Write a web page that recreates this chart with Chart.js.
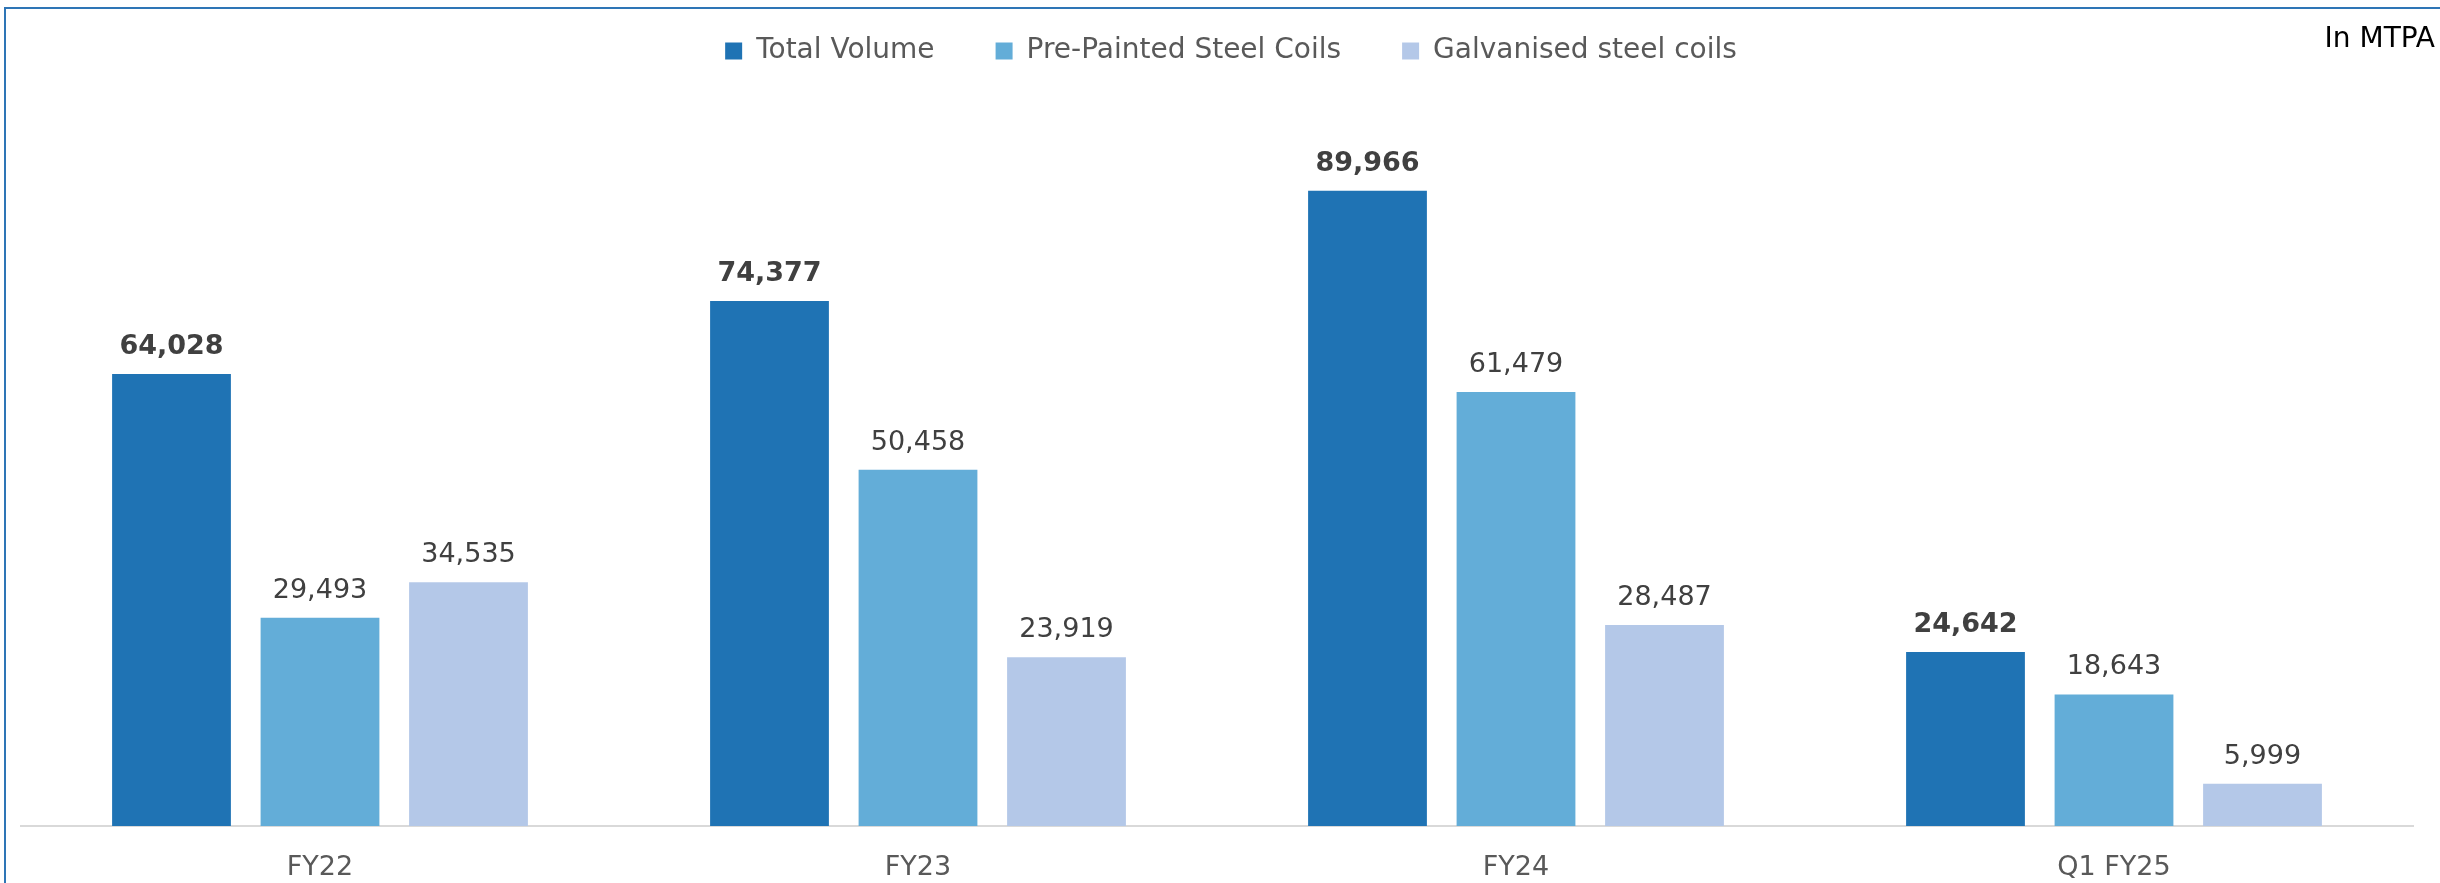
<!DOCTYPE html>
<html>
<head>
<meta charset="utf-8">
<script src="https://cdn.jsdelivr.net/npm/chart.js@4.4.1/dist/chart.umd.min.js"></script>
<style>
html, body { margin: 0; padding: 0; background: #fff; overflow: hidden; }
#wrap { position: relative; width: 2440px; height: 883px; }
#frame { position: absolute; left: 4px; top: 7px; width: 2500px; height: 1000px;
  border-left: 2px solid #2e75b6; border-top: 2px solid #2e75b6; pointer-events: none; }
</style>
</head>
<body>
<div id="wrap">
  <canvas id="barChart" width="2440" height="883"></canvas>
  <div id="frame"></div>
</div>
<script>
var categories = ['FY22', 'FY23', 'FY24', 'Q1 FY25']
var totalVolume = [64028, 74377, 89966, 24642]
var prePainted = [29493, 50458, 61479, 18643]
var galvanised = [34535, 23919, 28487, 5999]
var seriesNames = ['Total Volume', 'Pre-Painted Steel Coils', 'Galvanised steel coils']
var seriesColors = ['#1f73b4', '#63add8', '#b4c8e8']
var unitLabel = 'In MTPA'

var FONT = '"DejaVu Sans", sans-serif'

// value labels above each bar, bold for the first series
var valueLabels = {
    id: 'valueLabels',
    afterDatasetsDraw: function (chart) {
        var ctx = chart.ctx
        ctx.save()
        ctx.textAlign = 'center'
        ctx.textBaseline = 'alphabetic'
        ctx.fillStyle = '#404040'
        chart.data.datasets.forEach(function (ds, i) {
            var meta = chart.getDatasetMeta(i)
            ctx.font = (i === 0 ? 'bold ' : '') + '27px ' + FONT
            meta.data.forEach(function (bar, j) {
                ctx.fillText(ds.data[j].toLocaleString('en-US'), bar.x, bar.y - 20)
            })
        })
        ctx.restore()
    }
}

// unit note in the top right corner
var unitNote = {
    id: 'unitNote',
    afterDraw: function (chart) {
        var ctx = chart.ctx
        ctx.save()
        ctx.font = '28px ' + FONT
        ctx.fillStyle = '#000'
        ctx.textAlign = 'right'
        ctx.textBaseline = 'alphabetic'
        ctx.fillText(unitLabel, 2435, 47)
        ctx.restore()
    }
}

// move the legend up and a bit to the right
var legendShift = {
    id: 'legendShift',
    afterLayout: function (chart) {
        var lg = chart.legend
        lg.top -= 45
        lg.bottom -= 45
        lg.left += 14
        lg.right += 14
    }
}

var barChartData = {
    labels: categories,
    datasets: [
        { label: seriesNames[0], data: totalVolume, backgroundColor: seriesColors[0] },
        { label: seriesNames[1], data: prePainted, backgroundColor: seriesColors[1] },
        { label: seriesNames[2], data: galvanised, backgroundColor: seriesColors[2] }
    ]
}

var barChartOptions = {
    responsive: false,
    animation: false,
    datasets: {
        bar: { barPercentage: 0.8, categoryPercentage: 0.745 }
    },
    layout: {
        padding: { left: 21, right: 27, top: 21, bottom: 0 }
    },
    plugins: {
        tooltip: { enabled: false },
        legend: {
            position: 'top',
            align: 'center',
            labels: {
                boxWidth: 17,
                boxHeight: 17,
                padding: 61,
                color: '#595959',
                font: { family: FONT, size: 28 }
            }
        }
    },
    scales: {
        x: {
            grid: { display: false, drawTicks: false },
            border: { display: true, color: '#d9d9d9', width: 2 },
            ticks: {
                color: '#595959',
                padding: 26,
                font: { family: FONT, size: 27 }
            },
            afterFit: function (scale) { scale.height = 57 }
        },
        y: {
            display: false,
            min: 0,
            max: 100000
        }
    }
}

var barChartCanvas = document.getElementById('barChart').getContext('2d')
new Chart(barChartCanvas, {
    type: 'bar',
    data: barChartData,
    options: barChartOptions,
    plugins: [valueLabels, unitNote, legendShift]
})
</script>
</body>
</html>
